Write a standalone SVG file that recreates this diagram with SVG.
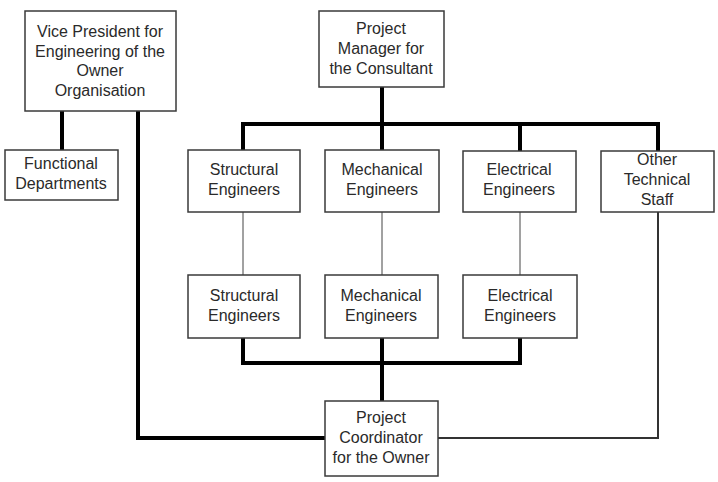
<svg xmlns="http://www.w3.org/2000/svg" width="718" height="482" viewBox="0 0 718 482">
<style>
.box{fill:#fff;stroke:#3a3a3a;stroke-width:1.5}
.t{font-family:"Liberation Sans",Arial,sans-serif;font-size:16px;fill:#2a2a2a;text-anchor:middle}
.thick{stroke:#000;stroke-width:4;fill:none}
.thin{stroke:#444;stroke-width:1;fill:none}
.med{stroke:#333;stroke-width:2;fill:none}
</style>
<rect width="718" height="482" fill="#fff"/>
<g id="connectors">
<path class="thick" d="M62,111V150"/>
<path class="thick" d="M138,111V438H325"/>
<path class="thick" d="M382,87V150"/>
<path class="thick" d="M243,150V124H658V151"/>
<path class="thick" d="M520,124V151"/>
<path class="thin" d="M243,212V275"/>
<path class="thin" d="M382,212V275"/>
<path class="thin" d="M520,212V275"/>
<path class="thick" d="M243,338V363H520V338"/>
<path class="thick" d="M382,338V401"/>
<path class="med" d="M438,438H658V212"/>
</g>
<g id="vp"><rect class="box" x="25" y="11" width="151" height="100"/>
<text class="t" x="100" y="37">Vice President for</text><text class="t" x="100" y="57">Engineering of the</text><text class="t" x="100" y="76">Owner</text><text class="t" x="100" y="96">Organisation</text></g>
<g id="fd"><rect class="box" x="5" y="150" width="113" height="50"/>
<text class="t" x="61" y="169">Functional</text><text class="t" x="61" y="189">Departments</text></g>
<g id="pm"><rect class="box" x="319" y="11" width="125" height="76"/>
<text class="t" x="381" y="34">Project</text><text class="t" x="381" y="54">Manager for</text><text class="t" x="381" y="74">the Consultant</text></g>
<g id="se1"><rect class="box" x="188" y="150" width="112" height="62"/>
<text class="t" x="244" y="175">Structural</text><text class="t" x="244" y="195">Engineers</text></g>
<g id="me1"><rect class="box" x="325" y="150" width="114" height="62"/>
<text class="t" x="382" y="175">Mechanical</text><text class="t" x="382" y="195">Engineers</text></g>
<g id="ee1"><rect class="box" x="463" y="151" width="113" height="61"/>
<text class="t" x="519" y="175">Electrical</text><text class="t" x="519" y="195">Engineers</text></g>
<g id="ot"><rect class="box" x="601" y="151" width="113" height="61"/>
<text class="t" x="657" y="165">Other</text><text class="t" x="657" y="185">Technical</text><text class="t" x="657" y="205">Staff</text></g>
<g id="se2"><rect class="box" x="188" y="275" width="112" height="63"/>
<text class="t" x="244" y="301">Structural</text><text class="t" x="244" y="321">Engineers</text></g>
<g id="me2"><rect class="box" x="325" y="275" width="113" height="63"/>
<text class="t" x="381" y="301">Mechanical</text><text class="t" x="381" y="321">Engineers</text></g>
<g id="ee2"><rect class="box" x="463" y="275" width="114" height="63"/>
<text class="t" x="520" y="301">Electrical</text><text class="t" x="520" y="321">Engineers</text></g>
<g id="pc"><rect class="box" x="325" y="401" width="113" height="75"/>
<text class="t" x="381" y="423">Project</text><text class="t" x="381" y="443">Coordinator</text><text class="t" x="381" y="463">for the Owner</text></g>
</svg>
